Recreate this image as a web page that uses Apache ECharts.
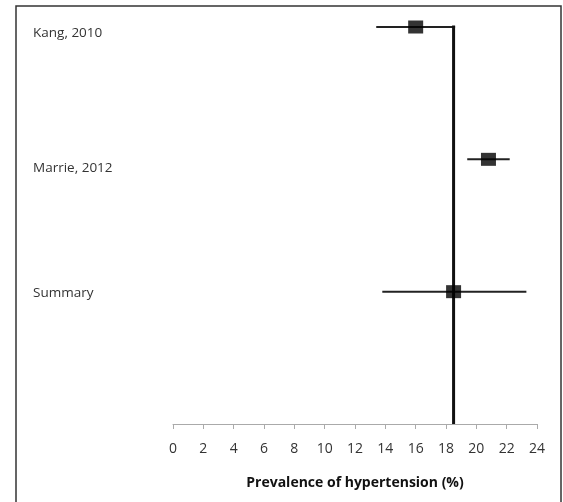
<!DOCTYPE html>
<html>
<head>
<meta charset="utf-8">
<script src="https://cdn.jsdelivr.net/npm/echarts@6/dist/echarts.min.js"></script>
<style>html,body{margin:0;padding:0;background:#fff}#c{width:563px;height:502px}</style>
</head>
<body>
<div id="c"></div>
<script>
const studies = ['Kang, 2010', 'Marrie, 2012', 'Summary'];
const rowPos = [3, 2, 1];
const estimates = [16.0, 20.8, 18.5];
const lower = [13.4, 19.4, 13.8];
const upper = [18.6, 22.2, 23.3];
const refValue = 18.5;
const xTicks = [0, 24, 2];

const chart = echarts.init(document.getElementById('c'));
const series = [];
studies.forEach((s, i) => {
  series.push({
    type: 'line', data: [[lower[i], rowPos[i]], [upper[i], rowPos[i]]],
    symbol: 'none', lineStyle: {color: '#222', width: 2}, z: 2, silent: true
  });
});
series.push({
  type: 'line', data: [[refValue, 0], [refValue, 3.015]],
  symbol: 'none', lineStyle: {color: '#111', width: 3}, z: 3, silent: true
});
series.push({
  type: 'scatter', data: estimates.map((v, i) => [v, rowPos[i]]),
  symbol: 'rect', symbolSize: [15, 13], itemStyle: {color: '#000'}, z: 5
});
const labelFont = {color: '#333', fontSize: 13.5, fontFamily: 'Open Sans'};
chart.setOption({
  animation: false,
  graphic: [{type: 'rect', shape: {x: 16, y: 6, width: 545, height: 520},
    style: {fill: 'none', stroke: '#333', lineWidth: 1.5}}],
  grid: {left: 173, right: 26, top: 27, bottom: 78},
  xAxis: {
    type: 'value', min: xTicks[0], max: xTicks[1], interval: xTicks[2],
    axisLine: {lineStyle: {color: '#aaa', width: 1}},
    axisTick: {show: true, length: 5, lineStyle: {color: '#aaa'}},
    splitLine: {show: false},
    axisLabel: {color: '#333', fontSize: 14, fontFamily: 'Open Sans', margin: 18},
    name: 'Prevalence of hypertension (%)', nameLocation: 'middle', nameGap: 52,
    nameTextStyle: {color: '#111', fontSize: 14, fontWeight: 'bold', fontFamily: 'Open Sans'}
  },
  yAxis: {
    type: 'value', min: 0, max: 3, interval: 1,
    axisLine: {show: false}, axisTick: {show: false}, splitLine: {show: false},
    axisLabel: {
      margin: 140, align: 'left', verticalAlign: 'middle',
      color: '#333', fontSize: 13.5, fontFamily: 'Open Sans',
      rich: {
        r3: Object.assign({padding: [12, 0, 0, 0]}, labelFont),
        r2: Object.assign({padding: [18, 0, 0, 0]}, labelFont),
        r1: Object.assign({padding: [2, 0, 0, 0]}, labelFont)
      },
      formatter: v => { const i = rowPos.indexOf(v); return i >= 0 ? '{r' + v + '|' + studies[i] + '}' : ''; }
    }
  },
  series: series
});
</script>
</body>
</html>
